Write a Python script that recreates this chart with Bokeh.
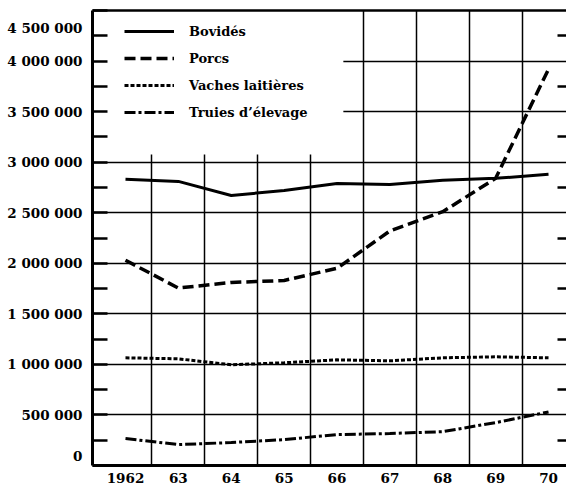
from bokeh.plotting import figure
from bokeh.models import (FixedTicker, LinearAxis, Range1d, Legend, LegendItem,
                          BoxAnnotation)
from bokeh.embed import file_html
from bokeh.resources import INLINE

years = [1962, 1963, 1964, 1965, 1966, 1967, 1968, 1969, 1970]
year_labels = ["1962", "63", "64", "65", "66", "67", "68", "69", "70"]
bovides = [2830000, 2810000, 2670000, 2720000, 2790000, 2780000, 2820000, 2840000, 2880000]
porcs = [2030000, 1755000, 1810000, 1830000, 1950000, 2320000, 2510000, 2840000, 3920000]
vaches = [1065000, 1055000, 996000, 1016000, 1045000, 1035000, 1065000, 1075000, 1065000]
truies = [266000, 207000, 227000, 256000, 306000, 316000, 335000, 424000, 530000]
series_names = ["Bovidés", "Porcs", "Vaches laitières", "Truies d’élevage"]
y_ticks = [0, 500000, 1000000, 1500000, 2000000, 2500000, 3000000, 3500000, 4000000, 4500000]
y_minor = [250000, 750000, 1250000, 1750000, 2250000, 2750000, 3250000, 3750000, 4250000]
grid_x = [1962.5, 1963.5, 1964.5, 1965.5, 1966.5, 1967.5, 1968.5, 1969.5]

X_START, X_END = 1961.376, 1970.34
Y_START, Y_END = 0, 4500000
LEGEND_MASK = (1966.12, 3077000)

FONT = "DejaVu Serif"


def fmt(v):
    s = "{:,}".format(v).replace(",", " ")
    if v == Y_END:
        return "\n" + s        # drawn just below the top tick
    if v == 0:
        return s + "\n"        # drawn just above the bottom tick
    return s


p = figure(width=566, height=489, output_backend="svg", toolbar_location=None,
           x_range=Range1d(X_START, X_END), y_range=Range1d(Y_START, Y_END),
           min_border_left=92, min_border_right=0, min_border_top=10, min_border_bottom=24)
p.outline_line_color = None
p.background_fill_color = "white"

# axes
p.xaxis.ticker = FixedTicker(ticks=years)
p.xaxis.major_label_overrides = {y: l for y, l in zip(years, year_labels)}
p.xaxis.major_tick_in = 0
p.xaxis.major_tick_out = 0
p.xaxis.minor_tick_in = 0
p.xaxis.minor_tick_out = 0
p.xaxis.axis_line_width = 3
p.xaxis.major_label_standoff = 7
p.xaxis.major_label_text_font = FONT
p.xaxis.major_label_text_font_style = "bold"
p.xaxis.major_label_text_font_size = "13.5px"
p.xaxis.major_label_text_color = "black"

p.yaxis.ticker = FixedTicker(ticks=y_ticks, minor_ticks=y_minor)
p.yaxis.major_label_overrides = {v: fmt(v) for v in y_ticks}
p.yaxis.major_tick_in = 15
p.yaxis.major_tick_out = 0
p.yaxis.minor_tick_in = 15
p.yaxis.minor_tick_out = 0
p.yaxis.major_tick_line_width = 2.5
p.yaxis.minor_tick_line_width = 2.5
p.yaxis.axis_line_width = 3
p.yaxis.major_label_standoff = 10
p.yaxis.major_label_text_font = FONT
p.yaxis.major_label_text_font_style = "bold"
p.yaxis.major_label_text_font_size = "13.5px"
p.yaxis.major_label_text_color = "black"

top_axis = LinearAxis(ticker=FixedTicker(ticks=[]), axis_line_width=2.5,
                      major_tick_in=0, major_tick_out=0, minor_tick_in=0, minor_tick_out=0,
                      major_label_standoff=0)
p.add_layout(top_axis, "above")
right_axis = LinearAxis(ticker=FixedTicker(ticks=[], minor_ticks=y_minor),
                        axis_line_color=None, major_tick_in=0, major_tick_out=0,
                        minor_tick_in=9, minor_tick_out=0, minor_tick_line_width=2.5,
                        major_label_standoff=0)
p.add_layout(right_axis, "right")

# grid
p.xgrid.ticker = FixedTicker(ticks=grid_x)
p.ygrid.ticker = FixedTicker(ticks=y_ticks[1:-1])
for g in (p.xgrid[0], p.ygrid[0]):
    g.grid_line_color = "black"
    g.grid_line_width = 1.5
    g.level = "image"

mask = BoxAnnotation(left=X_START, right=LEGEND_MASK[0], bottom=LEGEND_MASK[1], top=Y_END,
                     fill_color="white", fill_alpha=1, line_color=None, level="underlay")
p.add_layout(mask)

r1 = p.line(years, bovides, line_color="black", line_width=3)
r2 = p.line(years, porcs, line_color="black", line_width=3.5, line_dash="11 5")
r3 = p.line(years, vaches, line_color="black", line_width=3, line_dash="4 2")
r4 = p.line(years, truies, line_color="black", line_width=3, line_dash="11 3 3 3")

legend = Legend(items=[LegendItem(label=n, renderers=[r]) for n, r in
                       zip(series_names, [r1, r2, r3, r4])],
                location=(32, 343), margin=0, padding=6, spacing=7,
                glyph_width=50, glyph_height=20, label_height=20, label_standoff=15,
                background_fill_alpha=0, border_line_color=None,
                label_text_font=FONT, label_text_font_style="bold",
                label_text_font_size="13px", label_text_color="black")
p.add_layout(legend, "center")

open("out.html", "w").write(file_html(p, INLINE))
